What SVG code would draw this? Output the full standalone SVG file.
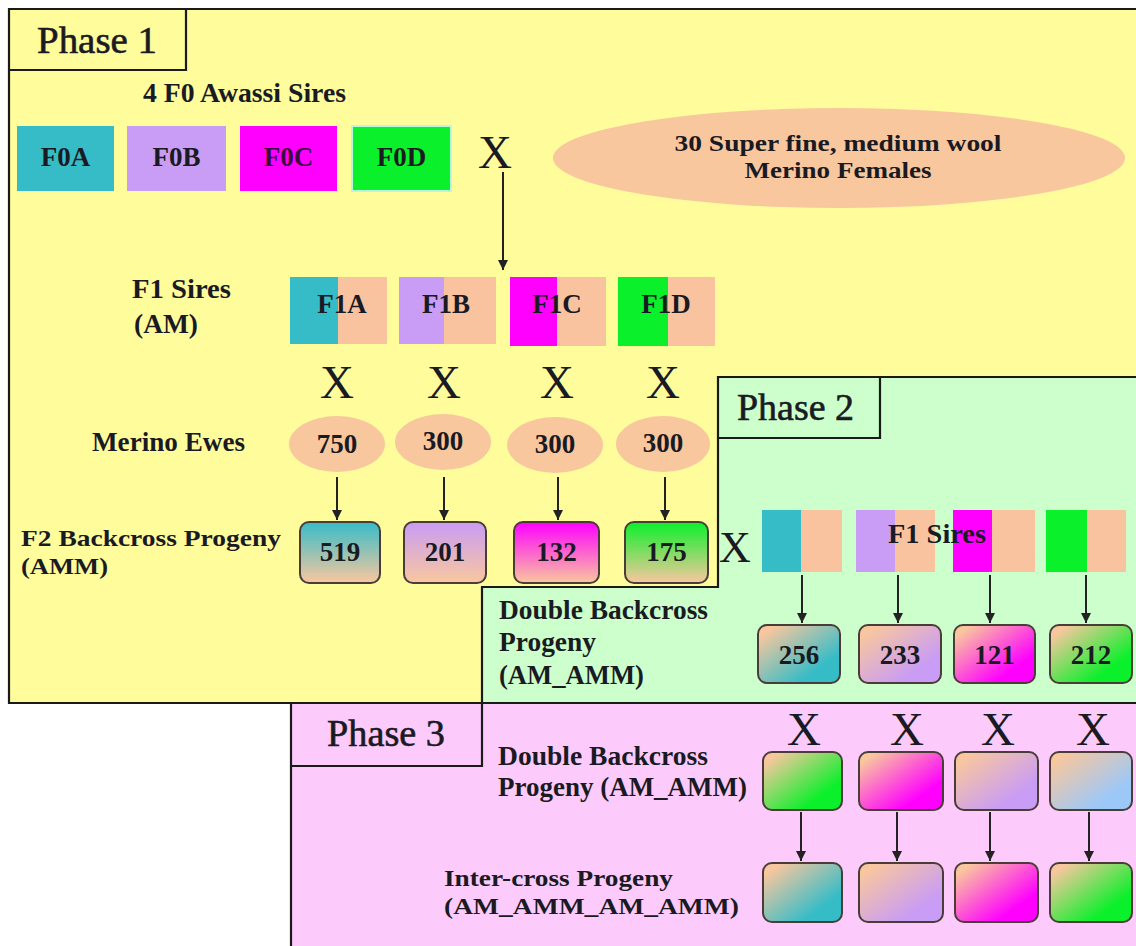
<svg xmlns="http://www.w3.org/2000/svg" width="1136" height="946" viewBox="0 0 1136 946">
<style>
text{font-family:"Liberation Serif","Times New Roman",serif;fill:#1a1a22}
.b{font-weight:bold;font-size:27px}
.s{font-size:24px}
.c{text-anchor:middle}
.ph{font-size:38px;stroke:#1a1a22;stroke-width:0.6}
.x{font-size:47px;text-anchor:middle}
.bd{fill:none;stroke:#1a1a1a;stroke-width:2.2}
.rb{stroke:#4a3c38;stroke-width:2}
.ar{stroke:#222;stroke-width:2;fill:none;marker-end:url(#ah)}
</style>
<defs>
<marker id="ah" markerUnits="userSpaceOnUse" markerWidth="10" markerHeight="12" refX="10" refY="5" orient="auto"><path d="M0,0 L10,5 L0,10 z" fill="#222"/></marker>
<linearGradient id="vT" x1="0" y1="0" x2="0" y2="1"><stop offset="0" stop-color="#36BCC7"/><stop offset="1" stop-color="#F9C79E"/></linearGradient>
<linearGradient id="vL" x1="0" y1="0" x2="0" y2="1"><stop offset="0" stop-color="#C99CF5"/><stop offset="1" stop-color="#F9C79E"/></linearGradient>
<linearGradient id="vM" x1="0" y1="0" x2="0" y2="1"><stop offset="0" stop-color="#FF00FF"/><stop offset="1" stop-color="#F9C79E"/></linearGradient>
<linearGradient id="vG" x1="0" y1="0" x2="0" y2="1"><stop offset="0" stop-color="#0AF02A"/><stop offset="1" stop-color="#F9C79E"/></linearGradient>
<linearGradient id="dT" x1="0" y1="0" x2="1" y2="1"><stop offset="0.1" stop-color="#F9C79E"/><stop offset="0.75" stop-color="#36BCC7"/></linearGradient>
<linearGradient id="dL" x1="0" y1="0" x2="1" y2="1"><stop offset="0.1" stop-color="#F9C79E"/><stop offset="0.75" stop-color="#C99CF5"/></linearGradient>
<linearGradient id="dM" x1="0" y1="0" x2="1" y2="1"><stop offset="0.1" stop-color="#F9C79E"/><stop offset="0.75" stop-color="#FF00FF"/></linearGradient>
<linearGradient id="dG" x1="0" y1="0" x2="1" y2="1"><stop offset="0.1" stop-color="#F9C79E"/><stop offset="0.75" stop-color="#0AF02A"/></linearGradient>
<linearGradient id="dB" x1="0" y1="0" x2="1" y2="1"><stop offset="0.1" stop-color="#F9C79E"/><stop offset="0.75" stop-color="#9CC8F8"/></linearGradient>
</defs>
<rect width="1136" height="946" fill="#ffffff"/>
<g id="panels">
<rect x="9" y="9" width="1140" height="694" fill="#FFFC9C"/>
<path d="M718,377 H1140 V703 H482 V587 H718 Z" fill="#CCFFCC"/>
<rect x="291" y="703" width="850" height="250" fill="#FCCBFC"/>
<path class="bd" d="M1140,9 H9 V703 H1140"/>
<path class="bd" d="M1140,377 H718 V587 H482 V703"/>
<path class="bd" d="M291,950 V703"/>
<path class="bd" d="M9,70 H186 V9"/>
<path class="bd" d="M718,438 H880 V377"/>
<path class="bd" d="M291,766 H482 V703"/>
<text class="ph" x="37" y="53" textLength="120" lengthAdjust="spacingAndGlyphs">Phase 1</text>
<text class="ph" x="737" y="420" textLength="117" lengthAdjust="spacingAndGlyphs">Phase 2</text>
<text class="ph" x="327" y="746" textLength="118" lengthAdjust="spacingAndGlyphs">Phase 3</text>
</g>
<g id="labels">
<text class="b" x="143" y="102" textLength="203" lengthAdjust="spacingAndGlyphs">4 F0 Awassi Sires</text>
<text class="b" x="132" y="298" textLength="99" lengthAdjust="spacingAndGlyphs">F1 Sires</text>
<text class="b" x="134" y="333" textLength="64" lengthAdjust="spacingAndGlyphs">(AM)</text>
<text class="b" x="92" y="451" textLength="153" lengthAdjust="spacingAndGlyphs">Merino Ewes</text>
<text class="b s" x="21" y="546" textLength="260" lengthAdjust="spacingAndGlyphs">F2 Backcross Progeny</text>
<text class="b s" x="21" y="574" textLength="87" lengthAdjust="spacingAndGlyphs">(AMM)</text>
<text class="b" x="499" y="619" textLength="209" lengthAdjust="spacingAndGlyphs">Double Backcross</text>
<text class="b" x="499" y="651" textLength="97" lengthAdjust="spacingAndGlyphs">Progeny</text>
<text class="b" x="499" y="684" textLength="145" lengthAdjust="spacingAndGlyphs">(AM_AMM)</text>
<text class="b" x="498" y="765" textLength="210" lengthAdjust="spacingAndGlyphs">Double Backcross</text>
<text class="b" x="498" y="796" textLength="249" lengthAdjust="spacingAndGlyphs">Progeny (AM_AMM)</text>
<text class="b s" x="444" y="886" textLength="229" lengthAdjust="spacingAndGlyphs">Inter-cross Progeny</text>
<text class="b s" x="444" y="914" textLength="295" lengthAdjust="spacingAndGlyphs">(AM_AMM_AM_AMM)</text>
</g>
<g id="crosses">
<text class="x" x="495" y="168">X</text>
<text class="x" x="337" y="398">X</text>
<text class="x" x="444" y="398">X</text>
<text class="x" x="557" y="398">X</text>
<text class="x" x="663" y="398">X</text>
<text class="x" x="735" y="562" style="font-size:44px">X</text>
<text class="x" x="804" y="745">X</text>
<text class="x" x="907" y="745">X</text>
<text class="x" x="998" y="745">X</text>
<text class="x" x="1093" y="745">X</text>
</g>
<g id="F0A"><rect x="17" y="126" width="97" height="65" fill="#36BCC7"/><text class="b c" x="65.5" y="166">F0A</text></g>
<g id="F0B"><rect x="127" y="126" width="99" height="65" fill="#C99CF5"/><text class="b c" x="176.5" y="166">F0B</text></g>
<g id="F0C"><rect x="240" y="126" width="97" height="65" fill="#FF00FF"/><text class="b c" x="288.5" y="166" style="fill:#3a0a40">F0C</text></g>
<g id="F0D"><rect x="352" y="126" width="99" height="65" fill="#0AF02A" stroke="#B8F8E0" stroke-width="2"/><text class="b c" x="401.5" y="166">F0D</text></g>
<g id="merinoFemales"><ellipse cx="839" cy="158" rx="286" ry="50" fill="#F9C79E"/><text class="b c s" x="838" y="151" textLength="327" lengthAdjust="spacingAndGlyphs">30 Super fine, medium wool</text><text class="b c s" x="838" y="178" textLength="187" lengthAdjust="spacingAndGlyphs">Merino Females</text></g>
<g id="F1A"><rect x="290" y="277" width="48" height="67" fill="#36BCC7"/><rect x="338" y="277" width="49" height="67" fill="#F9C3A0"/><text class="b c" x="342" y="313">F1A</text></g>
<g id="F1B"><rect x="399" y="277" width="45" height="67" fill="#C99CF5"/><rect x="444" y="277" width="52" height="67" fill="#F9C3A0"/><text class="b c" x="446" y="313">F1B</text></g>
<g id="F1C"><rect x="510" y="277" width="47" height="69" fill="#FF00FF"/><rect x="557" y="277" width="49" height="69" fill="#F9C3A0"/><text class="b c" x="557" y="313">F1C</text></g>
<g id="F1D"><rect x="618" y="277" width="50" height="69" fill="#0AF02A"/><rect x="668" y="277" width="47" height="69" fill="#F9C3A0"/><text class="b c" x="666" y="313">F1D</text></g>
<g id="ewe1"><ellipse cx="337" cy="444" rx="48" ry="28" fill="#F9C79E"/><text class="b c" x="337" y="453">750</text></g>
<g id="ewe2"><ellipse cx="443" cy="442" rx="48" ry="28" fill="#F9C79E"/><text class="b c" x="443" y="450">300</text></g>
<g id="ewe3"><ellipse cx="555" cy="445" rx="48" ry="28" fill="#F9C79E"/><text class="b c" x="555" y="453">300</text></g>
<g id="ewe4"><ellipse cx="663" cy="444" rx="47" ry="28" fill="#F9C79E"/><text class="b c" x="663" y="452">300</text></g>
<g id="F2A"><rect class="rb" x="300" y="522" width="80" height="61" rx="9" fill="url(#vT)"/><text class="b c" x="340" y="561">519</text></g>
<g id="F2B"><rect class="rb" x="404" y="522" width="82" height="61" rx="9" fill="url(#vL)"/><text class="b c" x="445" y="561">201</text></g>
<g id="F2C"><rect class="rb" x="514" y="522" width="85" height="61" rx="9" fill="url(#vM)"/><text class="b c" x="556.5" y="561">132</text></g>
<g id="F2D"><rect class="rb" x="625" y="522" width="83" height="61" rx="9" fill="url(#vG)"/><text class="b c" x="666.5" y="561">175</text></g>
<g id="P2sires">
<rect x="762" y="510" width="39" height="62" fill="#36BCC7"/><rect x="801" y="510" width="41" height="62" fill="#F9C3A0"/>
<rect x="856" y="510" width="39" height="62" fill="#C99CF5"/><rect x="895" y="510" width="40" height="62" fill="#F9C3A0"/>
<rect x="953" y="510" width="39" height="62" fill="#FF00FF"/><rect x="992" y="510" width="43" height="62" fill="#F9C3A0"/>
<rect x="1046" y="510" width="41" height="62" fill="#0AF02A"/><rect x="1087" y="510" width="39" height="62" fill="#F9C3A0"/>
<text class="b" x="888" y="543" textLength="98" lengthAdjust="spacingAndGlyphs">F1 Sires</text>
</g>
<g id="DB256"><rect class="rb" x="758" y="625" width="82" height="58" rx="9" fill="url(#dT)"/><text class="b c" x="799" y="664">256</text></g>
<g id="DB233"><rect class="rb" x="859" y="625" width="82" height="58" rx="9" fill="url(#dL)"/><text class="b c" x="900" y="664">233</text></g>
<g id="DB121"><rect class="rb" x="954" y="625" width="81" height="58" rx="9" fill="url(#dM)"/><text class="b c" x="994.5" y="664">121</text></g>
<g id="DB212"><rect class="rb" x="1050" y="625" width="82" height="58" rx="9" fill="url(#dG)"/><text class="b c" x="1091" y="664">212</text></g>
<g id="P3DB1"><rect class="rb" x="763" y="752" width="79" height="58" rx="9" fill="url(#dG)"/></g>
<g id="P3DB2"><rect class="rb" x="859" y="752" width="84" height="58" rx="9" fill="url(#dM)"/></g>
<g id="P3DB3"><rect class="rb" x="955" y="752" width="83" height="58" rx="9" fill="url(#dL)"/></g>
<g id="P3DB4"><rect class="rb" x="1050" y="752" width="82" height="58" rx="9" fill="url(#dB)"/></g>
<g id="IC1"><rect class="rb" x="763" y="863" width="79" height="59" rx="9" fill="url(#dT)"/></g>
<g id="IC2"><rect class="rb" x="859" y="863" width="84" height="59" rx="9" fill="url(#dL)"/></g>
<g id="IC3"><rect class="rb" x="955" y="863" width="83" height="59" rx="9" fill="url(#dM)"/></g>
<g id="IC4"><rect class="rb" x="1050" y="863" width="82" height="59" rx="9" fill="url(#dG)"/></g>
<g id="connectors">
<line class="ar" x1="503" y1="172" x2="503" y2="270"/>
<line class="ar" x1="337" y1="477" x2="337" y2="520"/>
<line class="ar" x1="444" y1="477" x2="444" y2="520"/>
<line class="ar" x1="558" y1="477" x2="558" y2="520"/>
<line class="ar" x1="665" y1="477" x2="665" y2="520"/>
<line class="ar" x1="802" y1="575" x2="802" y2="623"/>
<line class="ar" x1="898" y1="575" x2="898" y2="623"/>
<line class="ar" x1="990" y1="575" x2="990" y2="623"/>
<line class="ar" x1="1086" y1="575" x2="1086" y2="623"/>
<line class="ar" x1="801" y1="812" x2="801" y2="861"/>
<line class="ar" x1="897" y1="812" x2="897" y2="861"/>
<line class="ar" x1="990" y1="812" x2="990" y2="861"/>
<line class="ar" x1="1089" y1="812" x2="1089" y2="861"/>
</g>
</svg>
